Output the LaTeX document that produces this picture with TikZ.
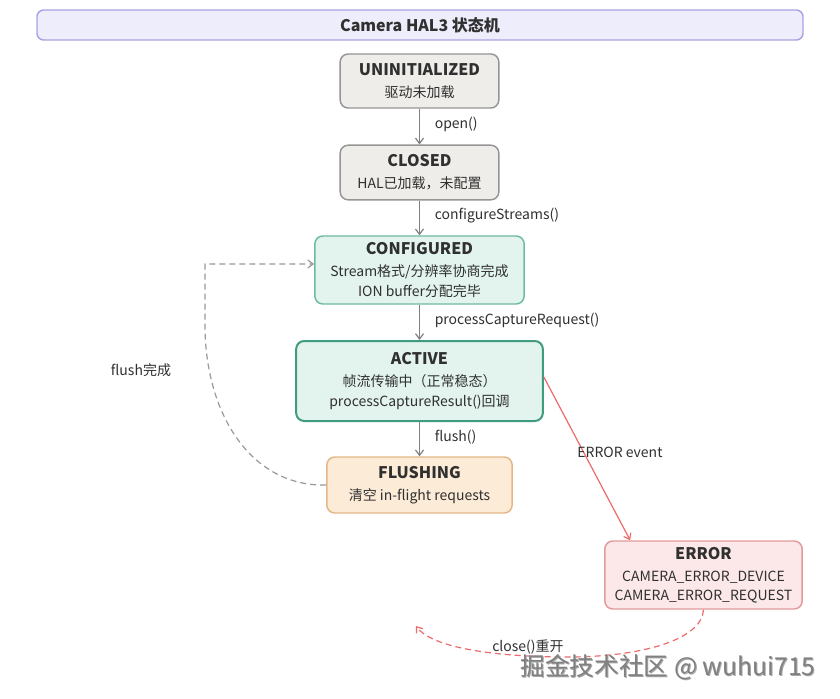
\documentclass[tikz,border=0pt]{standalone}
\usepackage{fontspec}
\setmainfont{Noto Sans CJK SC}
\usetikzlibrary{arrows.meta,calc}
\definecolor{txt}{HTML}{303030}
\definecolor{titlefill}{HTML}{EDEDFB}
\definecolor{titledraw}{HTML}{A9A3E4}
\definecolor{greyfill}{HTML}{EFEDE9}
\definecolor{greydraw}{HTML}{959595}
\definecolor{greenfill}{HTML}{E3F4EE}
\definecolor{greendraw}{HTML}{6DBBA1}
\definecolor{greendark}{HTML}{3F9C80}
\definecolor{orangefill}{HTML}{FBEBD7}
\definecolor{orangedraw}{HTML}{E3B886}
\definecolor{redfill}{HTML}{FCE8E8}
\definecolor{reddraw}{HTML}{E49A9A}
\definecolor{redline}{HTML}{EE6B6B}
\definecolor{arrowgrey}{HTML}{7F7F7F}
\definecolor{dashgrey}{HTML}{999999}
\tikzset{
  statebox/.style={rounded corners=6pt, line width=1.1pt, inner sep=0pt, align=center,
    text=txt, font=\fontsize{10.5}{14.5}\selectfont},
  greybox/.style={statebox, fill=greyfill, draw=greydraw},
  greenbox/.style={statebox, fill=greenfill, draw=greendraw},
  activebox/.style={statebox, fill=greenfill, draw=greendark, line width=1.5pt},
  orangebox/.style={statebox, fill=orangefill, draw=orangedraw},
  redbox/.style={statebox, fill=redfill, draw=reddraw},
  trans/.style={draw=arrowgrey, line width=0.9pt, -{Straight Barb[length=4pt,width=6pt]}},
  lbl/.style={text=txt, font=\fontsize{10.5}{12}\selectfont, inner sep=1pt},
}
\newcommand{\stitle}[1]{{\fontsize{12}{15}\selectfont\bfseries #1}\\[2pt]}
\begin{document}
\begin{tikzpicture}[x=0.75pt,y=-0.75pt]
\useasboundingbox[fill=white] (0,0) rectangle (840,699);

\node[rounded corners=5pt, fill=titlefill, draw=titledraw, line width=1.1pt,
  minimum width=574.5pt, minimum height=22.5pt, inner sep=0pt, text=txt,
  font=\fontsize{12}{14}\selectfont\bfseries] (title) at (420,25) {Camera HAL3 状态机};

\node[greybox, minimum width=119pt, minimum height=40.5pt] (un) at (419.5,81)
  {\stitle{UNINITIALIZED}驱动未加载};
\node[greybox, minimum width=119pt, minimum height=41pt] (cl) at (419.5,172.5)
  {\stitle{CLOSED}HAL已加载，未配置};
\node[greenbox, minimum width=157pt, minimum height=51pt] (cf) at (419.5,270)
  {\stitle{CONFIGURED}Stream格式/分辨率协商完成\\ION buffer分配完毕};
\node[activebox, minimum width=185pt, minimum height=60pt] (ac) at (419.5,381)
  {\stitle{ACTIVE}帧流传输中（正常稳态）\\processCaptureResult()回调};
\node[orangebox, minimum width=139pt, minimum height=42pt] (fl) at (419.5,485)
  {\stitle{FLUSHING}清空 in-flight requests};
\node[redbox, minimum width=148pt, minimum height=51pt] (er) at (703.5,575)
  {\stitle{ERROR}CAMERA\_ERROR\_DEVICE\\CAMERA\_ERROR\_REQUEST};

\draw[trans] (un.south) -- node[lbl, anchor=west, xshift=10pt, yshift=1.5pt] {open()} (cl.north);
\draw[trans] (cl.south) -- node[lbl, anchor=west, xshift=10pt, yshift=2pt] {configureStreams()} (cf.north);
\draw[trans] (cf.south) -- node[lbl, anchor=west, xshift=10pt, yshift=1.5pt] {processCaptureRequest()} (ac.north);
\draw[trans] (ac.south) -- node[lbl, anchor=west, xshift=10pt, yshift=1.5pt] {flush()} (fl.north);

\draw[draw=dashgrey, line width=0.9pt, dash pattern=on 4.5pt off 3pt,
  -{Straight Barb[length=4pt,width=6pt]}]
  (fl.west) .. controls (255,487) and (207,420) .. (205,330) -- (205,264) -- ([yshift=4.5pt]cf.west);
\node[lbl] (flabel) at (141,370) {flush完成};

\draw[draw=redline, line width=0.9pt, -{Straight Barb[length=4pt,width=6pt]}]
  ([yshift=3pt]ac.east) -- ([xshift=-55pt]er.north);
\node[lbl] (elabel) at (620,452) {ERROR event};

\coordinate (reopen) at (416,626);
\draw[draw=redline, line width=0.9pt, dash pattern=on 4.5pt off 3pt,
  -{Straight Barb[length=4pt,width=6pt]}]
  (er.south) .. controls (702,640) and (640,658) .. (560,657)
  .. controls (480,656) and (430,645) .. (reopen);
\node[lbl] (clabel) at (528,647) {close()重开};

\node[text=black!35, font=\fontsize{18.5}{20}\selectfont] (wmshadow) at (669,668) {掘金技术社区 @ wuhui715};
\node[text=black!50, font=\fontsize{18.5}{20}\selectfont] (wm) at (668,667) {掘金技术社区 @ wuhui715};
\end{tikzpicture}
\end{document}
